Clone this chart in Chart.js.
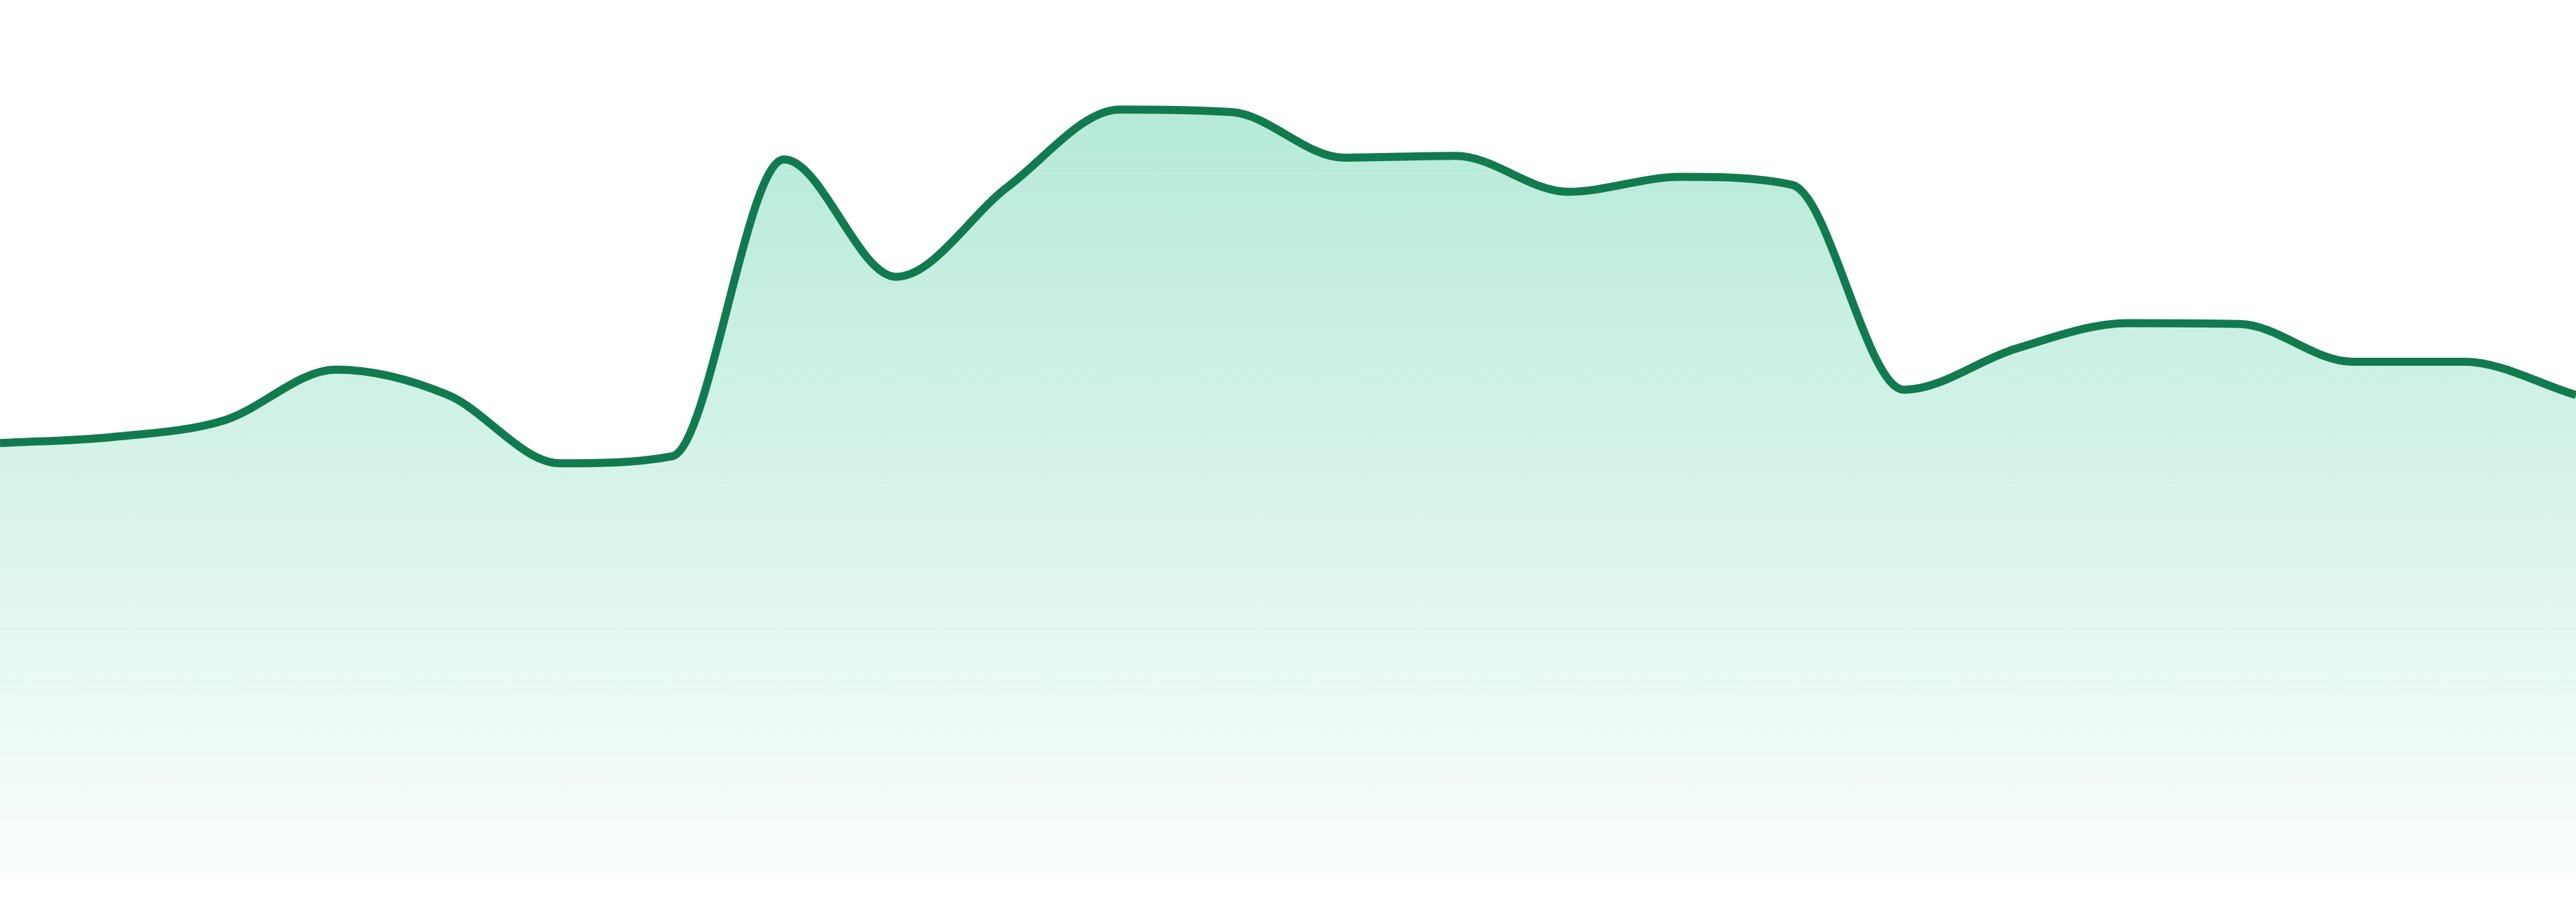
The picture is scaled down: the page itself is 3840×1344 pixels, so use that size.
<!DOCTYPE html>
<html>
<head>
<meta charset="utf-8">
<script src="https://cdn.jsdelivr.net/npm/chart.js@4/dist/chart.umd.min.js"></script>
<style>
  html, body { margin: 0; padding: 0; background: #ffffff; }
  #wrap { width: 3840px; height: 1344px; position: relative; }
</style>
</head>
<body>
<div id="wrap"><canvas id="area"></canvas></div>
<script>
// one point per period, 24 periods
const labels = Array.from({ length: 24 }, (_, i) => `P${i + 1}`);
const values = [
  49.4, 50.1, 52.0, 57.8, 54.9, 47.1, 47.9, 81.8,
  68.4, 78.7, 87.5, 87.2, 82.0, 82.2, 78.1, 79.8,
  78.9, 55.5, 60.2, 63.1, 63.0, 58.7, 58.7, 54.9
];
const yMin = 0, yMax = 100;

const LINE = '#127a50';

function areaFill(ctx) {
  const ca = ctx.chart.chartArea;
  if (!ca) return 'rgba(16,185,129,0.2)';
  const g = ctx.chart.ctx.createLinearGradient(0, ca.top, 0, ca.bottom);
  g.addColorStop(0, 'rgba(16,185,129,0.35)');
  g.addColorStop(1, 'rgba(16,185,129,0.02)');
  return g;
}

new Chart(document.getElementById('area').getContext('2d'), {
  type: 'line',
  data: {
    labels,
    datasets: [{
      data: values,
      borderColor: LINE,
      borderWidth: 12,
      backgroundColor: areaFill,
      fill: 'start',
      pointRadius: 0,
      pointHoverRadius: 0,
      cubicInterpolationMode: 'monotone'
    }]
  },
  options: {
    responsive: true,
    maintainAspectRatio: false,
    animation: false,
    layout: { padding: { top: 0, bottom: 39, left: 0, right: 0 } },
    plugins: { legend: { display: false }, tooltip: { enabled: false } },
    scales: {
      x: { display: false, offset: false },
      y: { display: false, min: yMin, max: yMax }
    }
  }
});
</script>
</body>
</html>
